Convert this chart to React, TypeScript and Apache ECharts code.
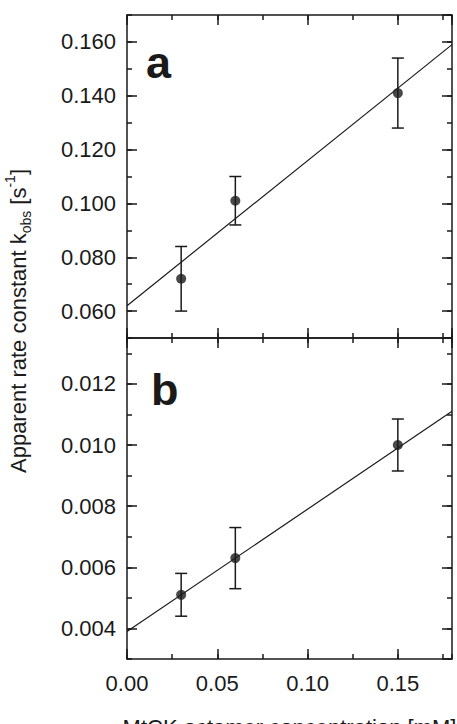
import React, { useEffect, useRef } from "react";
import * as echarts from "echarts";

// ---- data ----
const conc = [0.03, 0.06, 0.15]; // MtCK octamer concentration [mM]
const kA = [0.072, 0.101, 0.141];
const errA = [0.012, 0.009, 0.013];
const kB = [0.0051, 0.0063, 0.01];
const errB = [0.0007, 0.001, 0.00085];
const fitX = [0, 0.18];
const fitA = [0.062, 0.159];
const fitB = [0.0039, 0.0111];

// axis ranges and tick steps
const xRange = [0, 0.18];
const xMajorStep = 0.05;
const xMinorStep = 0.025;
const yRangeA = [0.05, 0.17];
const yMinorStepA = 0.01;
const yRangeB = [0.003, 0.0135];
const yMinorStepB = 0.001;

const INK = "#1a1a1a";
const FONT = "'Liberation Sans', Arial, Helvetica, sans-serif";
const FS = 22;
const MAJ = 10;
const MIN = 5;

function axis(
  grid: number,
  position: string,
  range: number[],
  interval: number | null,
  len: number,
  showLine: boolean,
  labelDigits: number | null,
  extra: any = {}
) {
  const a: any = {
    type: "value",
    gridIndex: grid,
    position,
    min: range[0],
    max: range[1],
    splitLine: { show: false },
    axisLine: { show: showLine, onZero: false, lineStyle: { color: INK, width: 1.5 } },
    axisTick: {
      show: true,
      inside: true,
      length: len,
      lineStyle: { color: INK, width: 1.5 },
    },
    axisLabel:
      labelDigits === null
        ? { show: false }
        : {
            show: true,
            showMinLabel: position === "left" ? false : true,
            showMaxLabel: false,
            formatter: (v: number) => v.toFixed(labelDigits),
            color: INK,
            fontFamily: FONT,
            fontSize: FS,
            margin: position === "left" ? 11 : 13,
          },
    ...extra,
  };
  if (interval !== null) a.interval = interval;
  else a.splitNumber = 5;
  return a;
}

function errorSeries(xi: number, yi: number, ks: number[], errs: number[]) {
  return {
    type: "custom",
    xAxisIndex: xi,
    yAxisIndex: yi,
    encode: { x: 0, y: [1, 2] },
    data: conc.map((c, i) => [c, ks[i] - errs[i], ks[i] + errs[i]]),
    renderItem: (params: any, api: any) => {
      const x = api.value(0);
      const p1 = api.coord([x, api.value(1)]);
      const p2 = api.coord([x, api.value(2)]);
      const w = 6;
      const st = { stroke: INK, lineWidth: 1.5 };
      return {
        type: "group",
        children: [
          { type: "line", shape: { x1: p1[0], y1: p1[1], x2: p2[0], y2: p2[1] }, style: st },
          { type: "line", shape: { x1: p1[0] - w, y1: p1[1], x2: p1[0] + w, y2: p1[1] }, style: st },
          { type: "line", shape: { x1: p2[0] - w, y1: p2[1], x2: p2[0] + w, y2: p2[1] }, style: st },
        ],
      };
    },
    z: 3,
  };
}

export default function App() {
  const ref = useRef<HTMLDivElement>(null);
  useEffect(() => {
    document.body.style.margin = "0";
    const chart = echarts.init(ref.current!, null, { renderer: "svg" });
    const xAxes: any[] = [];
    const yAxes: any[] = [];
    for (let g = 0; g < 2; g++) {
      const extraX =
        g === 1
          ? {
              name: "MtCK octamer concentration [mM]",
              nameLocation: "middle",
              nameGap: 57,
              nameTextStyle: { color: INK, fontFamily: FONT, fontSize: FS },
            }
          : {};
      xAxes.push(axis(g, "bottom", xRange, xMajorStep, MAJ, true, g === 1 ? 2 : null, extraX));
      xAxes.push(axis(g, "bottom", xRange, xMinorStep, MIN, false, null));
      xAxes.push(axis(g, "top", xRange, xMajorStep, MAJ, true, null));
      xAxes.push(axis(g, "top", xRange, xMinorStep, MIN, false, null));
      const yr = g === 0 ? yRangeA : yRangeB;
      const ymn = g === 0 ? yMinorStepA : yMinorStepB;
      yAxes.push(axis(g, "left", yr, null, MAJ, true, 3));
      yAxes.push(axis(g, "left", yr, ymn, MIN, false, null));
      yAxes.push(axis(g, "right", yr, null, MAJ, true, null));
      yAxes.push(axis(g, "right", yr, ymn, MIN, false, null));
    }
    const series: any[] = [];
    [
      { ks: kA, errs: errA, fit: fitA, ax: 0 },
      { ks: kB, errs: errB, fit: fitB, ax: 4 },
    ].forEach((p) => {
      series.push({
        type: "line",
        xAxisIndex: p.ax,
        yAxisIndex: p.ax,
        data: fitX.map((x, i) => [x, p.fit[i]]),
        showSymbol: false,
        symbol: "none",
        lineStyle: { color: INK, width: 1.2 },
        z: 2,
      });
      series.push(errorSeries(p.ax, p.ax, p.ks, p.errs));
      series.push({
        type: "scatter",
        xAxisIndex: p.ax,
        yAxisIndex: p.ax,
        data: conc.map((c, i) => [c, p.ks[i]]),
        symbol: "circle",
        symbolSize: 10,
        itemStyle: { color: INK },
        z: 4,
      });
    });
    chart.setOption({
      animation: false,
      backgroundColor: "#ffffff",
      textStyle: { fontFamily: FONT },
      grid: [
        { left: 127, right: 5, top: 15, height: 323, outerBoundsMode: "none", containLabel: false },
        { left: 127, right: 5, top: 338, height: 321, outerBoundsMode: "none", containLabel: false },
      ],
      xAxis: xAxes,
      yAxis: yAxes,
      series,
      graphic: [
        {
          type: "text",
          left: 146,
          top: 40,
          style: { text: "a", fontFamily: FONT, fontSize: 45, fontWeight: "bold", fill: INK },
        },
        {
          type: "text",
          left: 151,
          top: 367,
          style: { text: "b", fontFamily: FONT, fontSize: 45, fontWeight: "bold", fill: INK },
        },
        {
          type: "text",
          x: 18,
          y: 321,
          rotation: Math.PI / 2,
          style: {
            text: "{m|Apparent rate constant k}{sub|obs}{m| [s}{sup|-1}{m|]}",
            align: "center",
            verticalAlign: "middle",
            textAlign: "center",
            textVerticalAlign: "middle",
            fill: INK,
            rich: {
              m: { fontFamily: FONT, fontSize: FS, lineHeight: 30, color: INK, fill: INK },
              sub: { fontFamily: FONT, fontSize: 14, lineHeight: 14, verticalAlign: "bottom", color: INK, fill: INK },
              sup: { fontFamily: FONT, fontSize: 14, lineHeight: 14, verticalAlign: "top", color: INK, fill: INK },
            },
          },
        },
      ],
    });
    return () => chart.dispose();
  }, []);
  return <div ref={ref} style={{ position: "absolute", left: 0, top: 0, width: 457, height: 724 }} />;
}
